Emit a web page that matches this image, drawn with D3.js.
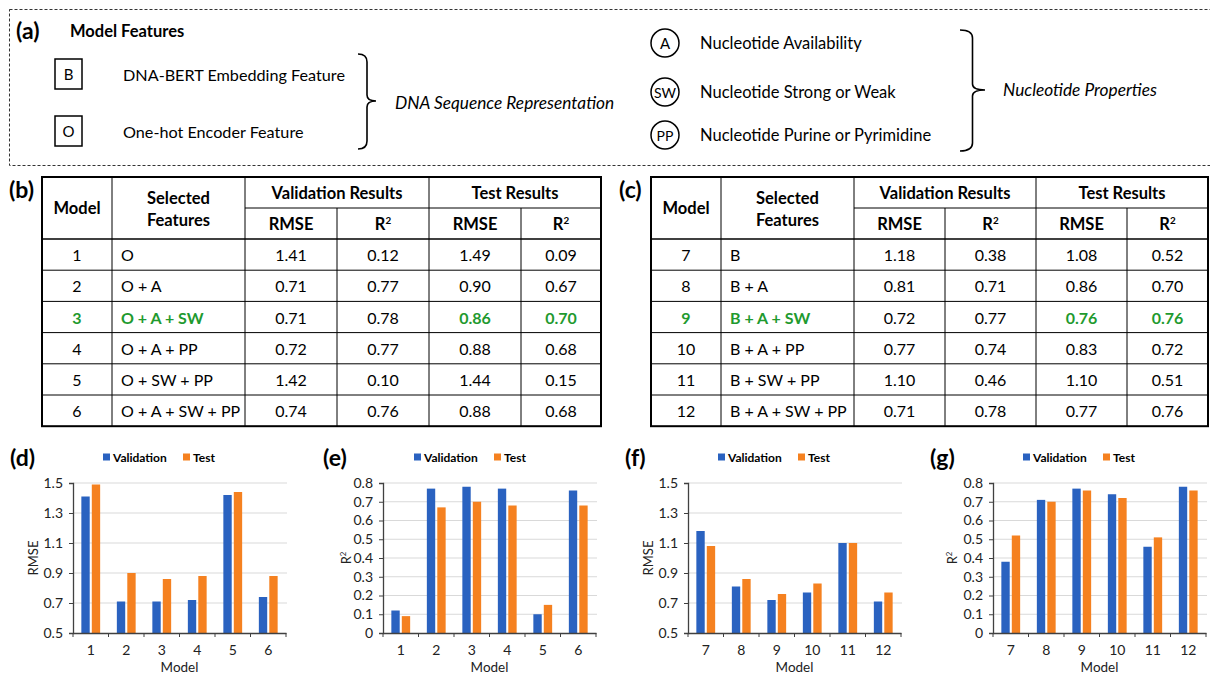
<!DOCTYPE html>
<html>
<head>
<meta charset="utf-8">
<script src="https://cdn.jsdelivr.net/npm/d3@7"></script>
<style>
  body { margin: 0; background: #fff; }
  svg { display: block; font-family: Lato, "Open Sans", sans-serif; }
</style>
</head>
<body>
<div id="fig"></div>
<script>
// ---- data ----
const modelsB = ["1", "2", "3", "4", "5", "6"];
const featuresB = ["O", "O + A", "O + A + SW", "O + A + PP", "O + SW + PP", "O + A + SW + PP"];
const valRmseB = [1.41, 0.71, 0.71, 0.72, 1.42, 0.74];
const valR2B = [0.12, 0.77, 0.78, 0.77, 0.10, 0.76];
const testRmseB = [1.49, 0.90, 0.86, 0.88, 1.44, 0.88];
const testR2B = [0.09, 0.67, 0.70, 0.68, 0.15, 0.68];

const modelsC = ["7", "8", "9", "10", "11", "12"];
const featuresC = ["B", "B + A", "B + A + SW", "B + A + PP", "B + SW + PP", "B + A + SW + PP"];
const valRmseC = [1.18, 0.81, 0.72, 0.77, 1.10, 0.71];
const valR2C = [0.38, 0.71, 0.77, 0.74, 0.46, 0.78];
const testRmseC = [1.08, 0.86, 0.76, 0.83, 1.10, 0.77];
const testR2C = [0.52, 0.70, 0.76, 0.72, 0.51, 0.76];

const bestRowB = 2;   // model 3
const bestRowC = 2;   // model 9

const rmseTicks = [0.5, 0.7, 0.9, 1.1, 1.3, 1.5];
const r2Ticks = [0, 0.1, 0.2, 0.3, 0.4, 0.5, 0.6, 0.7, 0.8];
const seriesNames = ["Validation", "Test"];

const repFeatures = [["B", "DNA-BERT Embedding Feature"], ["O", "One-hot Encoder Feature"]];
const propFeatures = [["A", "Nucleotide Availability"], ["SW", "Nucleotide Strong or Weak"], ["PP", "Nucleotide Purine or Pyrimidine"]];

const w = 1210, h = 675;
const blue = "#2a62c0", orange = "#f58120", green = "#1f9a2f";

const svg = d3.select("#fig").append("svg")
  .attr("width", w).attr("height", h);
svg.append("rect").attr("width", w).attr("height", h).attr("fill", "#fff");

function panelLabel(x, y, t) {
  svg.append("text").attr("x", x).attr("y", y)
    .attr("dominant-baseline", "central")
    .attr("font-size", 23).attr("font-weight", "bold").text(t);
}

// ---- (a) feature legend ----
svg.append("rect")
  .attr("x", 9.5).attr("y", 9.5).attr("width", 1210).attr("height", 156)
  .attr("fill", "none").attr("stroke", "#333").attr("stroke-dasharray", "3,2");

panelLabel(16, 30, "(a)");
svg.append("text").attr("x", 70).attr("y", 31).attr("dominant-baseline", "central")
  .attr("font-size", 16.5).attr("font-weight", "bold").text("Model Features");

const repY = [74, 131];
repFeatures.forEach((f, i) => {
  const g = svg.append("g").attr("transform", `translate(0,${repY[i]})`);
  g.append("rect").attr("x", 55).attr("y", -15).attr("width", 27).attr("height", 30)
    .attr("fill", "none").attr("stroke", "#000").attr("stroke-width", 1.5);
  g.append("text").attr("x", 68.5).attr("y", 0).attr("text-anchor", "middle")
    .attr("dominant-baseline", "central").attr("font-size", 15).text(f[0]);
  g.append("text").attr("x", 123).attr("y", 0).attr("dominant-baseline", "central")
    .attr("font-size", 16.2).text(f[1]);
});

const propY = [43, 92, 135];
propFeatures.forEach((f, i) => {
  const g = svg.append("g").attr("transform", `translate(0,${propY[i]})`);
  g.append("circle").attr("cx", 665).attr("cy", 0).attr("r", 14)
    .attr("fill", "none").attr("stroke", "#000").attr("stroke-width", 1.5);
  g.append("text").attr("x", 665).attr("y", 0).attr("text-anchor", "middle")
    .attr("dominant-baseline", "central").attr("font-size", f[0].length > 1 ? 14 : 15).text(f[0]);
  g.append("text").attr("x", 700).attr("y", 0).attr("dominant-baseline", "central")
    .attr("font-size", 16.5).text(f[1]);
});

function brace(x0, x1, y0, y1, ym) {
  const xm = (x0 + x1) / 2;
  const p = `M${x0},${y0} Q${xm},${y0} ${xm},${y0 + 8} L${xm},${ym - 6} Q${xm},${ym} ${x1},${ym}`
    + ` Q${xm},${ym} ${xm},${ym + 6} L${xm},${y1 - 8} Q${xm},${y1} ${x0},${y1}`;
  svg.append("path").attr("d", p).attr("fill", "none").attr("stroke", "#000").attr("stroke-width", 1.6);
}
brace(358, 376, 54, 149, 101);
brace(960, 985, 30, 151, 90);

svg.append("text").attr("x", 395).attr("y", 102).attr("dominant-baseline", "central")
  .attr("font-size", 17.3).attr("font-style", "italic").text("DNA Sequence Representation");
svg.append("text").attr("x", 1003).attr("y", 89).attr("dominant-baseline", "central")
  .attr("font-size", 17.3).attr("font-style", "italic").text("Nucleotide Properties");

// ---- (b), (c) tables ----
function r2Text(sel) {
  sel.append("tspan").text("R");
  sel.append("tspan").attr("font-size", "0.6em").attr("dy", "-0.45em").text("2");
}

function drawTable(cols, models, feats, vr, v2, tr, t2, best) {
  const top = 177, sub = 208, hb = 239, rowH = 31.2;
  const g = svg.append("g");
  const bottom = hb + rowH * models.length;
  const mid = (a, b) => (cols[a] + cols[b]) / 2;

  // inner horizontal lines
  d3.range(1, models.length).forEach(i => {
    g.append("line").attr("x1", cols[0]).attr("x2", cols[6])
      .attr("y1", hb + i * rowH).attr("y2", hb + i * rowH).attr("stroke", "#000");
  });
  g.append("line").attr("x1", cols[0]).attr("x2", cols[6]).attr("y1", hb).attr("y2", hb)
    .attr("stroke", "#000").attr("stroke-width", 1.5);
  g.append("line").attr("x1", cols[2]).attr("x2", cols[6]).attr("y1", sub).attr("y2", sub).attr("stroke", "#000");
  [1, 2, 4].forEach(c => g.append("line").attr("x1", cols[c]).attr("x2", cols[c])
    .attr("y1", top).attr("y2", bottom).attr("stroke", "#000"));
  [3, 5].forEach(c => g.append("line").attr("x1", cols[c]).attr("x2", cols[c])
    .attr("y1", sub).attr("y2", bottom).attr("stroke", "#000"));
  g.append("rect").attr("x", cols[0]).attr("y", top).attr("width", cols[6] - cols[0])
    .attr("height", bottom - top).attr("fill", "none").attr("stroke", "#000").attr("stroke-width", 2);

  const hdr = (x, y, t) => g.append("text").attr("x", x).attr("y", y).attr("text-anchor", "middle")
    .attr("dominant-baseline", "central").attr("font-size", 16.5).attr("font-weight", "bold").text(t);
  hdr(mid(0, 1), (top + hb) / 2, "Model");
  hdr(mid(1, 2), 198, "Selected");
  hdr(mid(1, 2), 220, "Features");
  hdr(mid(2, 4), 193, "Validation Results");
  hdr(mid(4, 6), 193, "Test Results");
  hdr(mid(2, 3), 224, "RMSE");
  hdr(mid(4, 5), 224, "RMSE");
  r2Text(hdr(mid(3, 4), 224, ""));
  r2Text(hdr(mid(5, 6), 224, ""));

  models.forEach((m, i) => {
    const y = hb + rowH * (i + 0.5);
    const hi = i === best;
    const cell = (x, t, anchor, bold) => g.append("text").attr("x", x).attr("y", y)
      .attr("text-anchor", anchor).attr("dominant-baseline", "central").attr("font-size", 16)
      .attr("font-weight", bold ? "bold" : "normal").attr("fill", bold ? green : "#000").text(t);
    cell(mid(0, 1), m, "middle", hi);
    cell(cols[1] + 9, feats[i], "start", hi);
    cell(mid(2, 3), vr[i].toFixed(2), "middle", false);
    cell(mid(3, 4), v2[i].toFixed(2), "middle", false);
    cell(mid(4, 5), tr[i].toFixed(2), "middle", hi);
    cell(mid(5, 6), t2[i].toFixed(2), "middle", hi);
  });
}

panelLabel(9, 189, "(b)");
drawTable([42, 112, 245, 337, 429, 521, 601], modelsB, featuresB, valRmseB, valR2B, testRmseB, testR2B, bestRowB);
panelLabel(619, 189, "(c)");
drawTable([651, 721, 854, 945, 1036, 1127, 1208], modelsC, featuresC, valRmseC, valR2C, testRmseC, testR2C, bestRowC);

// ---- (d)-(g) bar charts ----
function barChart(opt) {
  const x0 = opt.x0, x1 = opt.x0 + 213, yTop = 483, yBot = 633;
  const g = svg.append("g");
  const x = d3.scaleBand().domain(opt.models).range([x0, x1]);
  const xs = d3.scaleBand().domain(seriesNames).range([0, x.bandwidth()])
    .paddingInner(0.2).paddingOuter(0.8);
  const y = d3.scaleLinear().domain(opt.domain).range([yBot, yTop]);
  const fmt = d => d === 0 ? "0" : d3.format(".1f")(d);

  // gridlines
  g.selectAll(".grid").data(opt.ticks.slice(1)).enter().append("line")
    .attr("x1", x0).attr("x2", x1 + 1).attr("y1", d => y(d)).attr("y2", d => y(d))
    .attr("stroke", "#d9d9d9").attr("stroke-width", 1);

  const rows = opt.models.map((m, i) => ({ m, v: [opt.val[i], opt.test[i]] }));
  const grp = g.selectAll(".grp").data(rows).enter().append("g")
    .attr("transform", d => `translate(${x(d.m)},0)`);
  grp.selectAll("rect").data(d => d.v.map((v, k) => ({ k, v }))).enter().append("rect")
    .attr("x", d => xs(seriesNames[d.k]))
    .attr("width", xs.bandwidth())
    .attr("y", d => y(d.v))
    .attr("height", d => yBot - y(d.v))
    .attr("fill", d => d.k === 0 ? blue : orange);

  // y axis
  const ya = g.append("g").attr("transform", `translate(${x0},0)`)
    .call(d3.axisLeft(y).tickValues(opt.ticks).tickFormat(fmt).tickSize(4).tickPadding(6));
  ya.select(".domain").attr("stroke", "#404040").attr("stroke-width", 1.3);
  ya.selectAll(".tick line").attr("stroke", "#404040");
  ya.selectAll("text").attr("font-size", 14).attr("font-family", "Lato").attr("fill", "#222");

  // x axis with ticks at band edges
  const xa = g.append("g").attr("transform", `translate(0,${yBot})`)
    .call(d3.axisBottom(x).tickSize(0).tickPadding(12));
  xa.select(".domain").attr("stroke", "#404040").attr("stroke-width", 1.3);
  xa.selectAll("text").attr("font-size", 14).attr("font-family", "Lato").attr("fill", "#222");
  const edges = opt.models.map(m => x(m)).concat([x1]);
  g.selectAll(".xt").data(edges).enter().append("line")
    .attr("x1", d => d).attr("x2", d => d).attr("y1", yBot).attr("y2", yBot + 4)
    .attr("stroke", "#404040");

  g.append("text").attr("x", (x0 + x1) / 2).attr("y", 667).attr("text-anchor", "middle")
    .attr("dominant-baseline", "central").attr("font-size", 13.5).attr("fill", "#222").text("Model");
  const yl = g.append("text").attr("transform", `translate(${opt.ylx},558) rotate(-90)`)
    .attr("text-anchor", "middle").attr("dominant-baseline", "central")
    .attr("font-size", 13).attr("fill", "#222");
  if (opt.ylabel === "R2") r2Text(yl); else yl.text(opt.ylabel);

  // legend
  const lg = g.append("g").attr("transform", `translate(${opt.legX},457)`);
  lg.append("rect").attr("x", 0).attr("y", -3.5).attr("width", 7).attr("height", 7).attr("fill", blue);
  lg.append("text").attr("x", 10).attr("y", 0).attr("dominant-baseline", "central")
    .attr("font-size", 12).attr("font-weight", "bold").text(seriesNames[0]);
  lg.append("rect").attr("x", 80).attr("y", -3.5).attr("width", 7).attr("height", 7).attr("fill", orange);
  lg.append("text").attr("x", 90).attr("y", 0).attr("dominant-baseline", "central")
    .attr("font-size", 12).attr("font-weight", "bold").text(seriesNames[1]);

  panelLabel(opt.labX, 457, opt.label);
}

barChart({ label: "(d)", labX: 10, x0: 73, legX: 103, ylx: 33, ylabel: "RMSE",
  models: modelsB, val: valRmseB, test: testRmseB, domain: [0.5, 1.5], ticks: rmseTicks });
barChart({ label: "(e)", labX: 323, x0: 383, legX: 414, ylx: 346, ylabel: "R2",
  models: modelsB, val: valR2B, test: testR2B, domain: [0, 0.8], ticks: r2Ticks });
barChart({ label: "(f)", labX: 625, x0: 688, legX: 718, ylx: 648, ylabel: "RMSE",
  models: modelsC, val: valRmseC, test: testRmseC, domain: [0.5, 1.5], ticks: rmseTicks });
barChart({ label: "(g)", labX: 930, x0: 993, legX: 1023, ylx: 952, ylabel: "R2",
  models: modelsC, val: valR2C, test: testR2C, domain: [0, 0.8], ticks: r2Ticks });
</script>
</body>
</html>
